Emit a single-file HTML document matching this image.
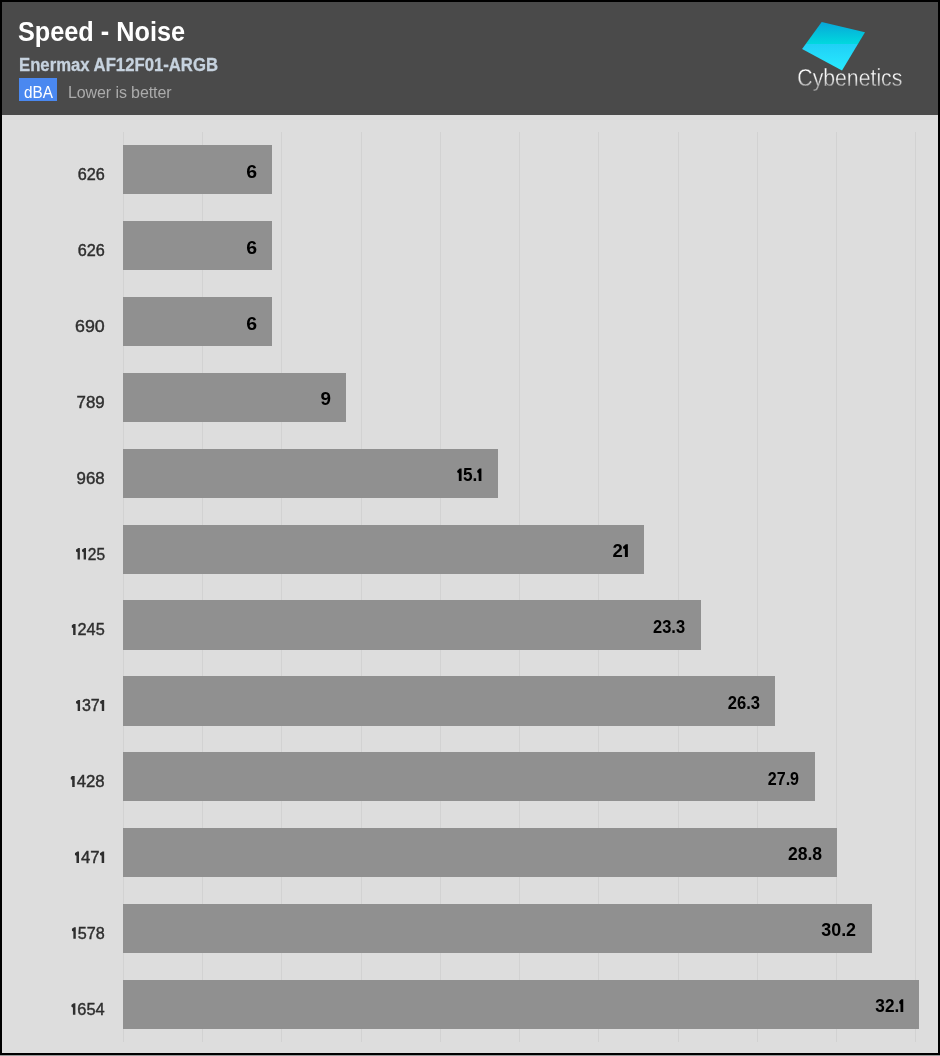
<!DOCTYPE html>
<html><head><meta charset="utf-8"><style>
html,body{margin:0;padding:0;}
body{width:940px;height:1056px;position:relative;overflow:hidden;background:#000;font-family:"Liberation Sans",sans-serif;}
#wrap{position:absolute;left:0;top:0;width:940px;height:1056px;will-change:transform;}
.a{position:absolute;}
.t{position:absolute;white-space:nowrap;line-height:1;}
#chart{position:absolute;left:2px;top:115px;width:936px;height:938px;background:#dddddd;}
#hdr{position:absolute;left:2px;top:2px;width:936px;height:113px;background:#4a4a4a;}
.g{position:absolute;width:1px;top:131.7px;height:910px;background:#d2d2d2;}
.bar{position:absolute;background:#909090;}
.lab{position:absolute;white-space:nowrap;line-height:1;color:#2e2e2e;-webkit-text-stroke:0.4px #2e2e2e;transform-origin:100% 50%;}
.ob{display:inline-block;width:6.2px;height:12.8px;background:#000;clip-path:polygon(2.7px 0,4.7px 0,4.7px 12.8px,1.8px 12.8px,1.8px 4.9px,0 3.9px,0 2.5px);}
.or{display:inline-block;width:6.0px;height:11.6px;background:#2e2e2e;clip-path:polygon(2.55px 0,4.1px 0,4.1px 11.6px,1.7px 11.6px,1.7px 4.3px,0 3.6px,0 1.8px);}
.val{position:absolute;white-space:nowrap;line-height:1;color:#000;font-weight:bold;transform-origin:100% 50%;}
</style></head><body>

<div id="wrap">
<div id="hdr"></div>
<div id="chart"></div>
<div class="a" style="left:0;top:1055px;width:940px;height:1px;background:#9a9a9a"></div>
<div class="g" style="left:123.00px"></div>
<div class="g" style="left:202.22px"></div>
<div class="g" style="left:281.44px"></div>
<div class="g" style="left:360.66px"></div>
<div class="g" style="left:439.88px"></div>
<div class="g" style="left:519.10px"></div>
<div class="g" style="left:598.32px"></div>
<div class="g" style="left:677.54px"></div>
<div class="g" style="left:756.76px"></div>
<div class="g" style="left:835.98px"></div>
<div class="g" style="left:915.20px"></div>
<div class="bar" style="left:123.4px;top:145.20px;width:148.68px;height:49.3px"></div>
<div class="lab" style="right:835.30px;top:167.26px;font-size:16px;transform:scaleX(1.014)">626</div>
<div class="val" style="right:683.17px;top:162.86px;font-size:18px;transform:scaleX(1.083)">6</div>
<div class="bar" style="left:123.4px;top:221.06px;width:148.68px;height:49.3px"></div>
<div class="lab" style="right:835.30px;top:243.12px;font-size:16px;transform:scaleX(1.014)">626</div>
<div class="val" style="right:683.17px;top:238.70px;font-size:18px;transform:scaleX(1.083)">6</div>
<div class="bar" style="left:123.4px;top:296.92px;width:148.68px;height:49.3px"></div>
<div class="lab" style="right:835.30px;top:318.98px;font-size:16px;transform:scaleX(1.113)">690</div>
<div class="val" style="right:683.17px;top:314.54px;font-size:18px;transform:scaleX(1.083)">6</div>
<div class="bar" style="left:123.4px;top:372.78px;width:223.02px;height:49.3px"></div>
<div class="lab" style="right:835.30px;top:394.84px;font-size:16px;transform:scaleX(1.057)">789</div>
<div class="val" style="right:608.83px;top:390.38px;font-size:18px;transform:scaleX(1.048)">9</div>
<div class="bar" style="left:123.4px;top:448.64px;width:374.18px;height:49.3px"></div>
<div class="lab" style="right:835.30px;top:470.70px;font-size:16px;transform:scaleX(1.055)">968</div>
<div class="val" style="right:457.67px;top:466.22px;font-size:18px;transform:scaleX(0.958)"><span class="ob" style="margin-left:0px;margin-right:0px"></span>5.<span class="ob" style="margin-left:-0.5px;margin-right:-1.0px"></span></div>
<div class="bar" style="left:123.4px;top:524.50px;width:520.38px;height:49.3px"></div>
<div class="lab" style="right:835.30px;top:546.56px;font-size:16px;transform:scaleX(0.970)"><span class="or" style="margin-left:0px;margin-right:0px"></span><span class="or" style="margin-left:0.3px;margin-right:0px"></span>25</div>
<div class="val" style="right:311.47px;top:542.06px;font-size:18px;transform:scaleX(1.033)">2<span class="ob" style="margin-left:0.2px;margin-right:-1.0px"></span></div>
<div class="bar" style="left:123.4px;top:600.36px;width:577.37px;height:49.3px"></div>
<div class="lab" style="right:835.30px;top:622.42px;font-size:16px;transform:scaleX(1.018)"><span class="or" style="margin-left:0px;margin-right:0px"></span>245</div>
<div class="val" style="right:254.48px;top:617.90px;font-size:18px;transform:scaleX(0.914)">23.3</div>
<div class="bar" style="left:123.4px;top:676.22px;width:651.71px;height:49.3px"></div>
<div class="lab" style="right:835.30px;top:698.28px;font-size:16px;transform:scaleX(1.002)"><span class="or" style="margin-left:0px;margin-right:0px"></span>37<span class="or" style="margin-left:0.3px;margin-right:-1.4px"></span></div>
<div class="val" style="right:180.14px;top:693.74px;font-size:18px;transform:scaleX(0.923)">26.3</div>
<div class="bar" style="left:123.4px;top:752.08px;width:691.36px;height:49.3px"></div>
<div class="lab" style="right:835.30px;top:774.14px;font-size:16px;transform:scaleX(1.049)"><span class="or" style="margin-left:0px;margin-right:0px"></span>428</div>
<div class="val" style="right:140.49px;top:769.58px;font-size:18px;transform:scaleX(0.893)">27.9</div>
<div class="bar" style="left:123.4px;top:827.94px;width:713.66px;height:49.3px"></div>
<div class="lab" style="right:835.30px;top:850.00px;font-size:16px;transform:scaleX(1.045)"><span class="or" style="margin-left:0px;margin-right:0px"></span>47<span class="or" style="margin-left:0.3px;margin-right:-1.4px"></span></div>
<div class="val" style="right:118.19px;top:845.42px;font-size:18px;transform:scaleX(0.975)">28.8</div>
<div class="bar" style="left:123.4px;top:903.80px;width:748.36px;height:49.3px"></div>
<div class="lab" style="right:835.30px;top:925.86px;font-size:16px;transform:scaleX(1.011)"><span class="or" style="margin-left:0px;margin-right:0px"></span>578</div>
<div class="val" style="right:83.49px;top:921.26px;font-size:18px;transform:scaleX(0.993)">30.2</div>
<div class="bar" style="left:123.4px;top:979.66px;width:795.44px;height:49.3px"></div>
<div class="lab" style="right:835.30px;top:1001.72px;font-size:16px;transform:scaleX(1.025)"><span class="or" style="margin-left:0px;margin-right:0px"></span>654</div>
<div class="val" style="right:36.41px;top:997.10px;font-size:18px;transform:scaleX(0.956)">32.<span class="ob" style="margin-left:-0.5px;margin-right:-1.0px"></span></div>
<div class="t" style="left:18.3px;top:17.60px;font-size:28px;font-weight:bold;color:#fff;transform:scaleX(0.902);transform-origin:0 50%">Speed - Noise</div>
<div class="t" style="left:18.7px;top:55.66px;font-size:18px;font-weight:bold;color:#c6d2de;-webkit-text-stroke:0.3px #c6d2de;transform:scaleX(0.928);transform-origin:0 50%">Enermax AF12F01-ARGB</div>
<div class="a" style="left:19.4px;top:77.6px;width:37.7px;height:23.2px;background:#4a88f0"></div>
<div class="t" style="left:23.5px;top:83.61px;font-size:17px;color:#fff;transform:scaleX(0.9);transform-origin:0 50%">dBA</div>
<div class="t" style="left:68px;top:84.96px;font-size:16px;color:#ababab;letter-spacing:-0.1px">Lower is better</div>
<svg class="a" style="left:0;top:0" width="940" height="120" viewBox="0 0 940 120">
<defs><linearGradient id="lg" x1="0" y1="22" x2="0" y2="70" gradientUnits="userSpaceOnUse">
<stop offset="0" stop-color="#08a6d8"/><stop offset="0.45" stop-color="#00d8de"/><stop offset="0.465" stop-color="#20d0f6"/><stop offset="1" stop-color="#28eaff"/></linearGradient>
<linearGradient id="tg" x1="0" y1="-17" x2="0" y2="5" gradientUnits="userSpaceOnUse"><stop offset="0" stop-color="#ffffff"/><stop offset="0.45" stop-color="#f0f0f0"/><stop offset="0.7" stop-color="#b8b8b8"/><stop offset="1" stop-color="#a0a0a0"/></linearGradient></defs>
<polygon points="821.7,22 865,32.2 842,70.5 802.1,48.9" fill="url(#lg)"/>
<text x="0" y="0" font-family="Liberation Sans" font-size="23" fill="url(#tg)" stroke="#4a4a4a" stroke-width="0.3" transform="translate(797.3,86.2) scale(0.924,1)">Cybenetics</text>
</svg>
</div></body></html>
